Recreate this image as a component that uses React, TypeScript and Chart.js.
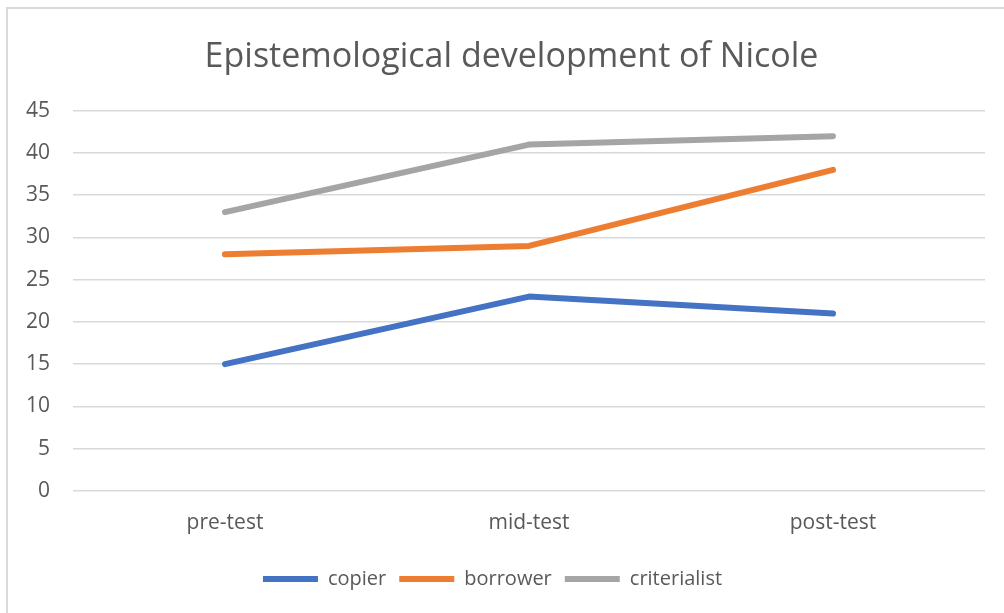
import React, { useEffect, useRef } from "react";
import { Chart, registerables } from "chart.js";

Chart.register(...registerables);

const categories = ["pre-test", "mid-test", "post-test"];
const copier = [15, 23, 21];
const borrower = [28, 29, 38];
const criterialist = [33, 41, 42];
const titleText = "Epistemological development of Nicole";

const FONT = "'Open Sans', sans-serif";
const TEXT = "#595959";

const titleShift = {
  id: "titleShift",
  afterLayout(chart: any) {
    const t = chart.titleBlock;
    if (t) t.left += 38;
  },
};

export default function App() {
  const ref = useRef<HTMLCanvasElement>(null);
  useEffect(() => {
    if (!ref.current) return;
    const mk = (label: string, data: number[], color: string) => ({
      label,
      data,
      borderColor: color,
      backgroundColor: color,
      borderWidth: 6,
      borderCapStyle: "round" as const,
      borderJoinStyle: "round" as const,
      pointRadius: 0,
      pointHoverRadius: 0,
      pointStyle: "line" as const,
      tension: 0,
      fill: false,
    });
    const chart = new Chart(ref.current, {
      type: "line",
      data: {
        labels: categories,
        datasets: [
          mk("copier", copier, "#4472C4"),
          mk("borrower", borrower, "#ED7D31"),
          mk("criterialist", criterialist, "#A5A5A5"),
        ],
      },
      plugins: [titleShift],
      options: {
        animation: false,
        responsive: false,
        maintainAspectRatio: false,
        layout: { padding: { left: 0, right: 19, top: 37, bottom: 14 } },
        plugins: {
          tooltip: { enabled: false },
          title: {
            display: true,
            text: titleText,
            color: TEXT,
            font: { family: FONT, size: 34, weight: "normal" },
            padding: { top: 0, bottom: 33 },
          },
          legend: {
            position: "bottom",
            labels: {
              usePointStyle: true,
              pointStyle: "line",
              pointStyleWidth: 55,
              boxWidth: 55,
              boxHeight: 20,
              padding: 13,
              color: TEXT,
              font: { family: FONT, size: 20 },
            },
          },
        },
        scales: {
          x: {
            offset: true,
            grid: { display: false, drawTicks: false },
            border: { display: false },
            ticks: {
              color: TEXT,
              font: { family: FONT, size: 21 },
              padding: 20,
            },
          },
          y: {
            min: 0,
            max: 45,
            afterFit: (s: any) => {
              s.width = 73;
            },
            ticks: {
              stepSize: 5,
              color: TEXT,
              font: { family: FONT, size: 21 },
              padding: 23,
            },
            grid: { color: "#D9D9D9", lineWidth: 1.5, drawTicks: false },
            border: { display: false },
          },
        },
      },
    });
    return () => chart.destroy();
  }, []);
  return (
    <div>
      <div
        style={{
          position: "fixed",
          left: 6,
          top: 7,
          width: 1100,
          height: 700,
          border: "2px solid #D9D9D9",
          background: "#fff",
        }}
      />
      <canvas
        ref={ref}
        width={1004}
        height={613}
        style={{ position: "fixed", left: 0, top: 0, width: 1004, height: 613 }}
      />
    </div>
  );
}
